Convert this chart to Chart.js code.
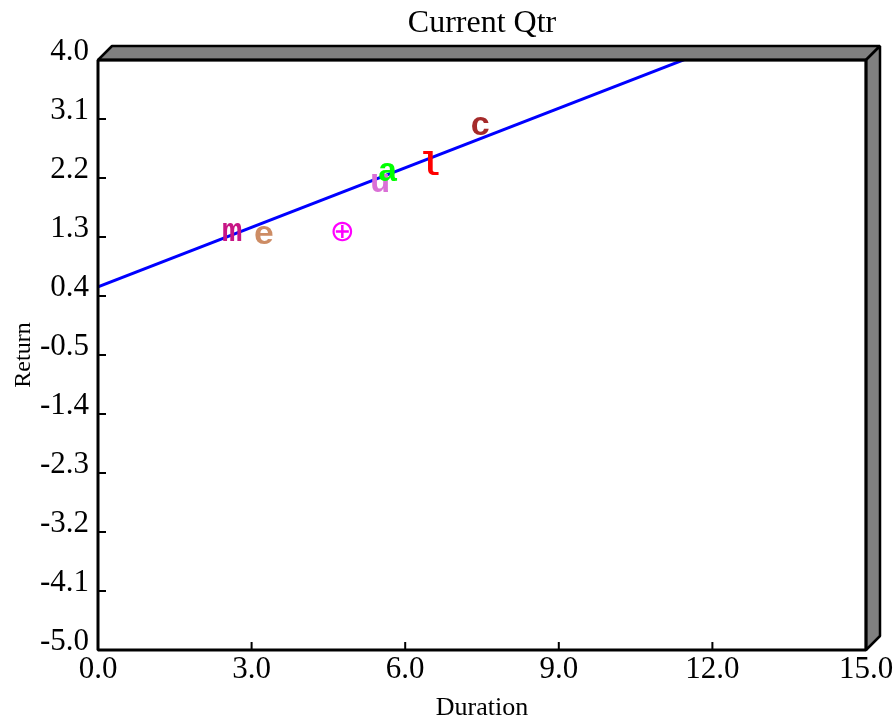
<!DOCTYPE html>
<html>
<head>
<meta charset="utf-8">
<script src="https://cdn.jsdelivr.net/npm/chart.js@4"></script>
<style>html,body{margin:0;padding:0;background:#fff}</style>
</head>
<body>
<canvas id="chart" width="896" height="721"></canvas>
<script>
// ── Data ────────────────────────────────────────────────────────────────────
const markerLabels = ["m", "e", "⊕", "u", "a", "l", "c"];
const markerColors = ["#c71585", "#cd8c64", "#ff00ff", "#da70d6", "#00ff00", "#ff0000", "#a52a2a"];
const durations = [2.62, 3.24, 4.77, 5.51, 5.66, 6.48, 7.47];
const returns = [1.38, 1.33, 1.39, 2.12, 2.29, 2.43, 2.99];
const fitDuration = [0, 15];
const fitReturn = [0.54, 5.08];
const xTicks = [0, 3, 6, 9, 12, 15];
const yTicks = [-5.0, -4.1, -3.2, -2.3, -1.4, -0.5, 0.4, 1.3, 2.2, 3.1, 4.0];

const SERIF = "'Liberation Serif', 'Times New Roman', serif";

// ── 3D frame + inward tick marks ────────────────────────────────────────────
const frame3d = {
  id: "frame3d",
  afterDatasetsDraw(chart) {
    const { ctx, chartArea: a, scales } = chart;
    const d = 14;
    ctx.save();
    ctx.fillStyle = "#808080";
    ctx.strokeStyle = "#000";
    ctx.lineWidth = 2.5;
    ctx.lineJoin = "bevel";

    ctx.beginPath();
    ctx.moveTo(a.left, a.top);
    ctx.lineTo(a.left + d, a.top - d);
    ctx.lineTo(a.right + d, a.top - d);
    ctx.lineTo(a.right, a.top);
    ctx.closePath();
    ctx.fill();
    ctx.stroke();

    ctx.beginPath();
    ctx.moveTo(a.right, a.top);
    ctx.lineTo(a.right + d, a.top - d);
    ctx.lineTo(a.right + d, a.bottom - d);
    ctx.lineTo(a.right, a.bottom);
    ctx.closePath();
    ctx.fill();
    ctx.stroke();

    ctx.lineWidth = 3;
    ctx.strokeRect(a.left, a.top, a.right - a.left, a.bottom - a.top);

    ctx.lineWidth = 2;
    ctx.beginPath();
    yTicks.forEach(v => {
      const y = scales.y.getPixelForValue(v);
      ctx.moveTo(a.left, y);
      ctx.lineTo(a.left + 8, y);
    });
    xTicks.forEach(v => {
      const x = scales.x.getPixelForValue(v);
      ctx.moveTo(x, a.bottom);
      ctx.lineTo(x, a.bottom - 8);
    });
    ctx.stroke();
    ctx.restore();
  }
};

// ── Letter markers drawn at the scatter points ──────────────────────────────
const letterMarks = {
  id: "letterMarks",
  afterDatasetsDraw(chart) {
    const meta = chart.getDatasetMeta(1);
    const ctx = chart.ctx;
    ctx.save();
    ctx.textAlign = "center";
    ctx.textBaseline = "alphabetic";
    meta.data.forEach((pt, i) => {
      const ch = markerLabels[i];
      ctx.font = ch === "⊕" ? "30px 'DejaVu Sans'" : "bold 34px 'Liberation Mono'";
      ctx.fillStyle = markerColors[i];
      const m = ctx.measureText(ch);
      ctx.fillText(ch, pt.x, pt.y + (m.actualBoundingBoxAscent - m.actualBoundingBoxDescent) / 2);
    });
    ctx.restore();
  }
};

new Chart(document.getElementById("chart"), {
  type: "scatter",
  data: {
    datasets: [
      {
        label: "Fit",
        data: fitDuration.map((x, i) => ({ x, y: fitReturn[i] })),
        showLine: true,
        borderColor: "#0000ff",
        borderWidth: 3,
        pointRadius: 0,
        pointHoverRadius: 0,
        fill: false,
      },
      {
        label: "Funds",
        data: durations.map((x, i) => ({ x, y: returns[i] })),
        pointRadius: 0,
        pointHoverRadius: 0,
      }
    ]
  },
  options: {
    responsive: false,
    animation: false,
    layout: { padding: { left: 0, right: 30, top: 0, bottom: 0 } },
    plugins: {
      legend: { display: false },
      tooltip: { enabled: false },
      title: {
        display: true,
        text: "Current Qtr",
        fullSize: false,
        color: "#000",
        font: { family: SERIF, size: 32, weight: "normal", lineHeight: 1.2 },
        padding: { top: 4, bottom: 17.6 }
      }
    },
    scales: {
      x: {
        type: "linear",
        min: 0, max: 15,
        afterBuildTicks: s => { s.ticks = xTicks.map(v => ({ value: v })); },
        afterFit: s => { s.height = 71; },
        grid: { display: false, drawTicks: false },
        border: { display: false },
        ticks: {
          callback: v => v.toFixed(1),
          color: "#000",
          font: { family: SERIF, size: 31 },
          padding: 1,
          autoSkip: false,
          maxRotation: 0,
        },
        title: { display: true, text: "Duration", color: "#000", font: { family: SERIF, size: 26, lineHeight: 1.0 }, padding: 0 }
      },
      y: {
        type: "linear",
        min: -5, max: 4,
        afterBuildTicks: s => { s.ticks = yTicks.map(v => ({ value: v })); },
        afterFit: s => { s.width = 98; },
        grid: { display: false, drawTicks: false },
        border: { display: false },
        ticks: {
          callback: v => v.toFixed(1),
          color: "#000",
          font: { family: SERIF, size: 31 },
          padding: 9,
          labelOffset: -8,
          autoSkip: false,
        },
        title: { display: true, text: "Return", color: "#000", font: { family: SERIF, size: 24 }, padding: { top: 9, bottom: 0 } }
      }
    }
  },
  plugins: [frame3d, letterMarks]
});
</script>
</body>
</html>
